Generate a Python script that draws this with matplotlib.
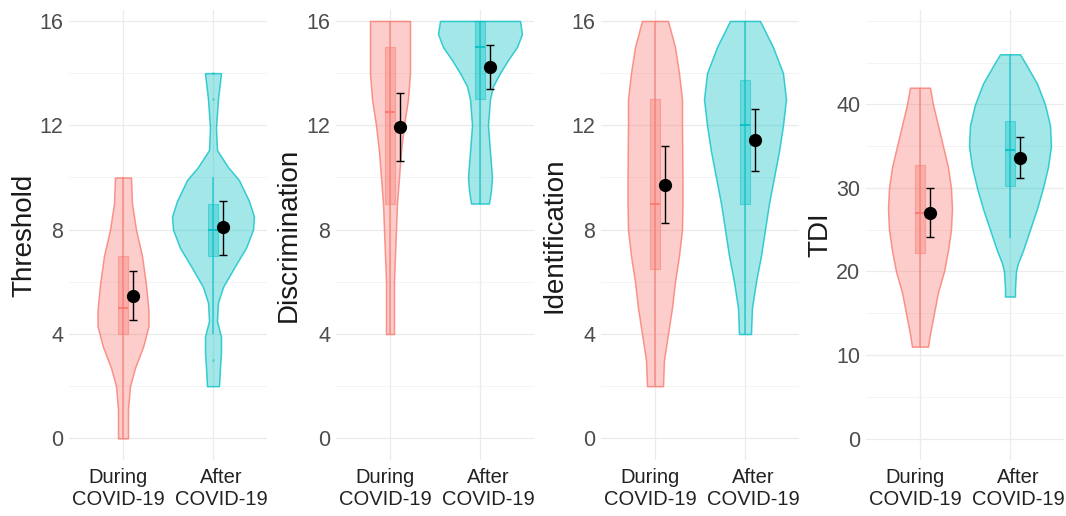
import matplotlib
matplotlib.use('Agg')
import matplotlib.pyplot as plt
import matplotlib.transforms as mtransforms
from matplotlib.colors import to_rgba

groups = ['During\nCOVID-19', 'After\nCOVID-19']
measures = ['Threshold', 'Discrimination', 'Identification', 'TDI']

# violin outlines: score level and relative half-width
thr_during_y = [0, 1.1, 2.0, 2.7, 3.5, 4.3, 4.9, 5.9, 7.0, 8.0, 9.0, 10]
thr_during_w = [5, 5, 7, 12, 20, 25.5, 25.5, 23, 19, 13, 9, 8]
thr_after_y = [2, 2.7, 3.3, 3.9, 4.5, 5.2, 5.8, 6.6, 7.3, 8.0, 8.5, 9.1, 9.9, 10.4, 11.05, 11.9, 13.0, 14]
thr_after_w = [6, 7, 8, 8, 4, 5, 10, 22, 33, 40, 41, 36, 26, 15, 4, 3, 5, 8]

dis_during_y = [4, 5, 6, 7, 8, 9, 10, 11, 12, 13, 14, 15, 16]
dis_during_w = [4, 4, 4, 5, 6, 7, 9, 11, 14, 18, 20, 20, 20]
dis_after_y = [9, 9.5, 10, 11, 12, 13, 13.5, 14, 14.5, 15, 15.5, 16]
dis_after_w = [9, 11, 12, 10, 8, 10, 13, 20, 28, 37, 42, 40]

ide_during_y = [2, 3, 4, 5, 6, 7, 8, 9, 10, 12, 13, 14, 15, 16]
ide_during_w = [8, 9, 13, 17, 20, 24, 27, 27.5, 27.5, 27, 27, 24, 20, 13]
ide_after_y = [4, 5, 6, 7, 8, 9, 10, 11, 12, 13, 14, 15, 16]
ide_after_w = [6, 7, 11, 16, 20, 24, 29, 34, 38, 41, 38, 28, 15]

tdi_during_y = [11, 12.5, 15, 17.5, 20, 22.5, 25, 27.5, 30, 32.5, 35, 37.5, 40, 42]
tdi_during_w = [8, 10, 14, 18, 24, 28, 31, 32, 31, 28, 23, 18, 13, 10]
tdi_after_y = [17, 18, 20, 21, 22.5, 25, 27.5, 30, 32.5, 35, 37.5, 40, 42.5, 45, 46]
tdi_after_w = [5, 5, 6, 8, 13, 20, 27, 33, 38, 41, 40, 35, 27, 15, 10]

violin_y = [[thr_during_y, thr_after_y], [dis_during_y, dis_after_y],
            [ide_during_y, ide_after_y], [tdi_during_y, tdi_after_y]]
violin_w = [[thr_during_w, thr_after_w], [dis_during_w, dis_after_w],
            [ide_during_w, ide_after_w], [tdi_during_w, tdi_after_w]]

# boxplot stats [during, after]
q1 = [[4, 7], [9, 13], [6.5, 9], [22.2, 30.2]]
median = [[5, 8], [12.5, 15], [9, 12], [27, 34.5]]
q3 = [[7, 9], [15, 16], [13, 13.75], [32.8, 38]]
whisk_lo = [[0, 4], [4, 9], [2, 4], [11, 24]]
whisk_hi = [[10, 10], [16, 16], [16, 16], [42, 46]]
outliers = [[[], [3, 13, 14]], [[], []], [[], []], [[], []]]

# mean and its interval
mean = [[5.45, 8.09], [11.93, 14.23], [9.73, 11.42], [27.0, 33.6]]
ci_lo = [[4.54, 7.04], [10.63, 13.38], [8.26, 10.24], [24.1, 31.2]]
ci_hi = [[6.42, 9.09], [13.23, 15.09], [11.2, 12.64], [30.0, 36.1]]

colors = ['#F8766D', '#00BFC4']
W, H = 1066, 516
centers_px = [123, 390, 655, 920]      # x pixel of first category
ylabel_px = [24, 289, 554, 820]
label_shift_px = [-5, 8]               # x tick labels spread apart a bit
px_per_cat = 90.0
width_scale = 1 / 90.0                 # relative width -> category units
dodge = 0.11

plt.rcParams['font.family'] = ['Liberation Sans', 'DejaVu Sans']
fig = plt.figure(figsize=(W / 100, H / 100), dpi=100)

top_px, bot_px = 10, 460
for i, name in enumerate(measures):
    left = centers_px[i] - 0.6 * px_per_cat
    width = 2.2 * px_per_cat
    ax = fig.add_axes([left / W, (H - bot_px) / H, width / W, (bot_px - top_px) / H])
    ax.set_xlim(0.4, 2.6)
    if name == 'TDI':
        ax.set_ylim(-2.57, 51.3)
        ax.set_yticks([0, 10, 20, 30, 40])
        ax.set_yticks([5, 15, 25, 35, 45, 50], minor=True)
    else:
        ax.set_ylim(-0.83, 16.42)
        ax.set_yticks([0, 4, 8, 12, 16])
        ax.set_yticks([2, 6, 10, 14], minor=True)
    ax.set_xticks([1, 2])
    ax.set_xticklabels(groups, linespacing=1.15)

    for j in range(2):
        x = j + 1
        c = colors[j]
        ys = violin_y[i][j]
        ws = [w * width_scale for w in violin_w[i][j]]
        ax.fill_betweenx(ys, [x - w for w in ws], [x + w for w in ws],
                         facecolor=to_rgba(c, 0.36), edgecolor=to_rgba(c, 0.75),
                         linewidth=1.1, joinstyle='round', zorder=2)
        ax.vlines(x, whisk_lo[i][j], whisk_hi[i][j], color=to_rgba(c, 0.7),
                  linewidth=1.1, zorder=3)
        ax.bar(x, q3[i][j] - q1[i][j], bottom=q1[i][j], width=0.11,
               facecolor=to_rgba(c, 0.35), edgecolor=to_rgba(c, 0.45),
               linewidth=0.8, zorder=3)
        ax.hlines(median[i][j], x - 0.055, x + 0.055, color=to_rgba(c, 0.85),
                  linewidth=1.4, zorder=4)
        if outliers[i][j]:
            ax.scatter([x] * len(outliers[i][j]), outliers[i][j], s=4,
                       color=to_rgba(c, 0.4), zorder=4, linewidths=0)
        m = mean[i][j]
        ax.errorbar(x + dodge, m, yerr=[[m - ci_lo[i][j]], [ci_hi[i][j] - m]],
                    fmt='o', color='black', ms=8.5, capsize=3, elinewidth=1,
                    capthick=1, zorder=5)

    ax.grid(True, which='major', color='#EBEBEB', linewidth=0.9, zorder=0)
    ax.grid(True, which='minor', axis='y', color='#F3F3F3', linewidth=0.6, zorder=0)
    ax.set_axisbelow(True)
    for s in ax.spines.values():
        s.set_visible(False)
    ax.tick_params(which='both', length=0)
    ax.tick_params(axis='y', labelsize=15.5, labelcolor='#4D4D4D', pad=4)
    ax.tick_params(axis='x', labelsize=14.5, labelcolor='#222222', pad=6)
    # shift after tick_params, which resets the label transforms
    for lab, dx in zip(ax.get_xticklabels(), label_shift_px):
        lab.set_transform(lab.get_transform() +
                          mtransforms.ScaledTranslation(dx / 100, 0, fig.dpi_scale_trans))

    ax.set_ylabel(name, fontsize=20, color='#1A1A1A')
    ax.yaxis.label.set_va('center')
    ax.yaxis.set_label_coords((ylabel_px[i] - left) / width, 0.5)

fig.savefig('out.png', dpi=100)
